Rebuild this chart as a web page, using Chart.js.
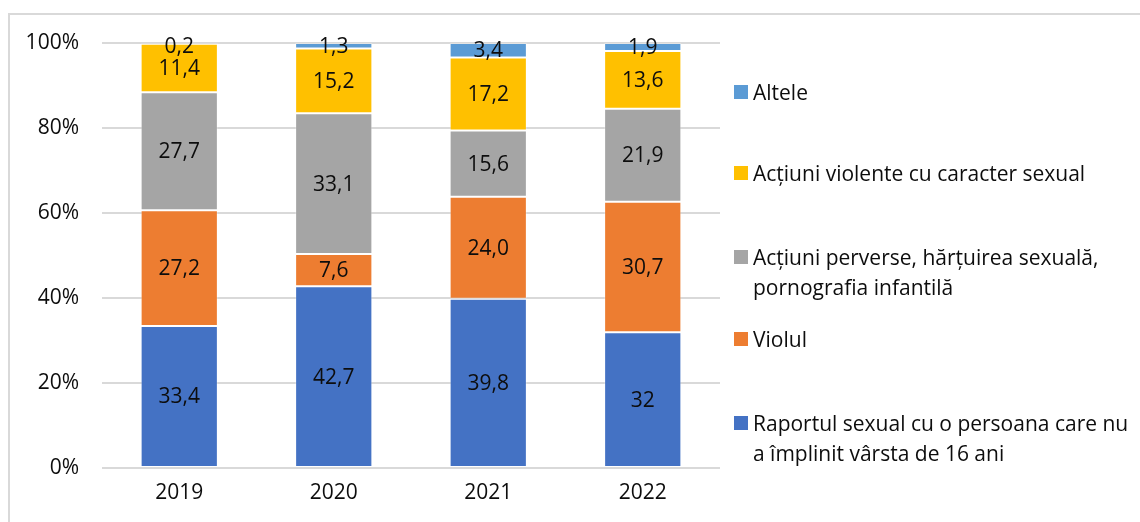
<!DOCTYPE html>
<html>
<head>
<meta charset="utf-8">
<script src="https://cdn.jsdelivr.net/npm/chart.js@4/dist/chart.umd.min.js"></script>
<style>
    html, body { margin: 0; padding: 0; background: #fff; }
    .frame { position: relative; width: 1140px; height: 522px; overflow: hidden; font-family: 'Open Sans', sans-serif; }
    .border { position: absolute; left: 8px; top: 13px; width: 1200px; height: 600px; border-left: 2px solid #d9d9d9; border-top: 2px solid #d9d9d9; box-sizing: border-box; }
    canvas { position: absolute; left: 0; top: 0; }
    .legend-item { position: absolute; left: 734px; font-size: 21px; line-height: 30px; color: #0d0d0d; }
    .legend-item .box { position: absolute; left: 0; top: 8px; width: 14px; height: 14px; }
    .legend-item .text { margin-left: 19px; white-space: nowrap; }
</style>
</head>
<body>
<div class="frame">
    <div class="border"></div>
    <canvas id="chart" width="1140" height="522"></canvas>
    <div id="legend"></div>
</div>
<script>
const years = ['2019', '2020', '2021', '2022'];

const raportul = [33.4, 42.7, 39.8, 32];
const violul = [27.2, 7.6, 24.0, 30.7];
const perverse = [27.7, 33.1, 15.6, 21.9];
const violente = [11.4, 15.2, 17.2, 13.6];
const altele = [0.2, 1.3, 3.4, 1.9];

const raportulText = ['33,4', '42,7', '39,8', '32'];
const violulText = ['27,2', '7,6', '24,0', '30,7'];
const perverseText = ['27,7', '33,1', '15,6', '21,9'];
const violenteText = ['11,4', '15,2', '17,2', '13,6'];
const alteleText = ['0,2', '1,3', '3,4', '1,9'];

const yTicks = [0, 20, 40, 60, 80, 100];

const series = [
    { label: 'Raportul sexual cu o persoana care nu\na împlinit vârsta de 16 ani', values: raportul, text: raportulText, color: '#4472c4', top: 408 },
    { label: 'Violul', values: violul, text: violulText, color: '#ed7d31', top: 324 },
    { label: 'Acțiuni perverse, hărțuirea sexuală,\npornografia infantilă', values: perverse, text: perverseText, color: '#a5a5a5', top: 242 },
    { label: 'Acțiuni violente cu caracter sexual', values: violente, text: violenteText, color: '#ffc000', top: 158 },
    { label: 'Altele', values: altele, text: alteleText, color: '#5b9bd5', top: 77 },
];

// Excel 100% stacked: every year is scaled to its own total
const totals = years.map((_, i) => series.reduce((sum, s) => sum + s.values[i], 0));

const FONT = "'Open Sans', sans-serif";
const INK = '#0d0d0d';

const segmentLabels = {
    id: 'segmentLabels',
    afterDatasetsDraw(chart) {
        const { ctx, chartArea } = chart;
        ctx.save();
        ctx.font = `21px ${FONT}`;
        ctx.fillStyle = INK;
        ctx.textAlign = 'center';
        ctx.textBaseline = 'middle';
        chart.data.datasets.forEach((dataset, di) => {
            chart.getDatasetMeta(di).data.forEach((bar, i) => {
                const mid = (bar.y + bar.base) / 2;
                const y = Math.max(mid, chartArea.top + 3);
                ctx.fillText(series[di].text[i], bar.x, y + 1);
            });
        });
        ctx.restore();
    },
};

new Chart(document.getElementById('chart'), {
    type: 'bar',
    data: {
        labels: years,
        datasets: series.map((s) => ({
            label: s.label,
            data: s.values.map((v, i) => v / totals[i] * 100),
            backgroundColor: s.color,
            borderColor: 'rgba(255, 255, 255, 0.3)',
            borderWidth: 1,
            borderSkipped: false,
            categoryPercentage: 1,
            barPercentage: 0.5,
        })),
    },
    options: {
        responsive: false,
        animation: false,
        events: [],
        layout: { padding: { top: 43, right: 420, left: 0, bottom: 0 } },
        plugins: {
            legend: { display: false },
            tooltip: { enabled: false },
        },
        scales: {
            x: {
                stacked: true,
                grid: { display: false, drawTicks: false },
                border: { display: false },
                ticks: { color: INK, font: { family: FONT, size: 21 }, padding: 12 },
                afterFit: (scale) => { scale.height = 54; },
            },
            y: {
                stacked: true,
                min: 0,
                max: 100,
                afterBuildTicks: (scale) => { scale.ticks = yTicks.map((value) => ({ value })); },
                ticks: {
                    color: INK,
                    font: { family: FONT, size: 21 },
                    padding: 23,
                    callback: (value) => `${value}%`,
                },
                grid: { color: '#d9d9d9', lineWidth: 2, drawTicks: false },
                border: { display: false },
                afterFit: (scale) => { scale.width = 102; },
            },
        },
    },
    plugins: [segmentLabels],
});

const legend = document.getElementById('legend');
series.forEach((s) => {
    const item = document.createElement('div');
    item.className = 'legend-item';
    item.style.top = `${s.top}px`;
    const box = document.createElement('span');
    box.className = 'box';
    box.style.background = s.color;
    const text = document.createElement('div');
    text.className = 'text';
    text.innerHTML = s.label.split('\n').join('<br>');
    item.append(box, text);
    legend.append(item);
});
</script>
</body>
</html>
